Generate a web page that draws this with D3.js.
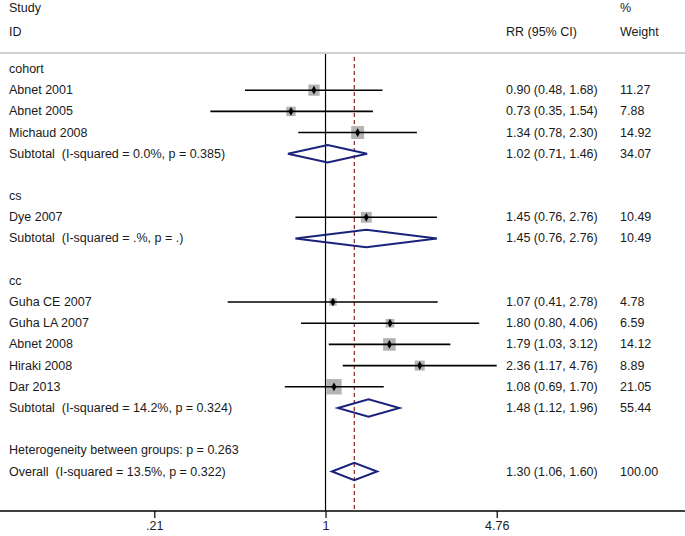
<!DOCTYPE html>
<html>
<head>
<meta charset="utf-8">
<script src="https://cdn.jsdelivr.net/npm/d3@7"></script>
<style>
  html, body { margin: 0; padding: 0; background: #fff; }
  svg { display: block; }
  text { font-family: "Liberation Sans", Arial, Helvetica, sans-serif; font-size: 12.5px; fill: #1a1a1a; white-space: pre; }
</style>
</head>
<body>
<svg id="chart" width="685" height="536"></svg>
<script>
// ---- data ----
const rowLabels = [
  "cohort", "Abnet 2001", "Abnet 2005", "Michaud 2008", "Subtotal  (I-squared = 0.0%, p = 0.385)", "",
  "cs", "Dye 2007", "Subtotal  (I-squared = .%, p = .)", "",
  "cc", "Guha CE 2007", "Guha LA 2007", "Abnet 2008", "Hiraki 2008", "Dar 2013", "Subtotal  (I-squared = 14.2%, p = 0.324)", "",
  "Heterogeneity between groups: p = 0.263", "Overall  (I-squared = 13.5%, p = 0.322)"
];
const rowTypes = [
  "group", "study", "study", "study", "pooled", "blank",
  "group", "study", "pooled", "blank",
  "group", "study", "study", "study", "study", "study", "pooled", "blank",
  "text", "pooled"
];
const rrValues = [null, 0.90, 0.73, 1.34, 1.02, null, null, 1.45, 1.45, null, null, 1.07, 1.80, 1.79, 2.36, 1.08, 1.48, null, null, 1.30];
const ciLower  = [null, 0.48, 0.35, 0.78, 0.71, null, null, 0.76, 0.76, null, null, 0.41, 0.80, 1.03, 1.17, 0.69, 1.12, null, null, 1.06];
const ciUpper  = [null, 1.68, 1.54, 2.30, 1.46, null, null, 2.76, 2.76, null, null, 2.78, 4.06, 3.12, 4.76, 1.70, 1.96, null, null, 1.60];
const weights  = [null, 11.27, 7.88, 14.92, 34.07, null, null, 10.49, 10.49, null, null, 4.78, 6.59, 14.12, 8.89, 21.05, 55.44, null, null, 100.00];
const tickValues = [0.21, 1, 4.76];
const tickLabels = [".21", "1", "4.76"];
const overallRR = 1.30;
const headerLeft = ["Study", "ID"];
const headerCI = "RR (95% CI)";
const headerWeight = ["%", "Weight"];

// ---- layout ----
const W = 685, H = 536;
const svg = d3.select("#chart");
const rows = rowLabels.map((label, i) => ({
  label, type: rowTypes[i], rr: rrValues[i], lo: ciLower[i], hi: ciUpper[i], w: weights[i], i
}));

const x = d3.scaleLog().domain([0.21, 4.76]).range([154.3, 496.7]);
const y = d3.scaleLinear().domain([0, rows.length - 1]).range([69, 471.5]);
const axisY = 511;
const sepY = 53;
const colCI = 506, colW = 620, colLabel = 9;
const sq = d3.scaleSqrt().domain([0, 100]).range([0, 33.5]);

// header
svg.append("text").attr("x", colLabel).attr("y", 7.5).attr("dominant-baseline", "central").text(headerLeft[0]);
svg.append("text").attr("x", colLabel).attr("y", 32).attr("dominant-baseline", "central").text(headerLeft[1]);
svg.append("text").attr("x", colCI).attr("y", 32).attr("dominant-baseline", "central").text(headerCI);
svg.append("text").attr("x", colW).attr("y", 7.5).attr("dominant-baseline", "central").text(headerWeight[0]);
svg.append("text").attr("x", colW).attr("y", 32).attr("dominant-baseline", "central").text(headerWeight[1]);

// separator
svg.append("line").attr("x1", 0).attr("x2", W).attr("y1", sepY).attr("y2", sepY)
  .attr("stroke", "#cfcfcf").attr("stroke-width", 2);

// reference line at 1
svg.append("line").attr("x1", x(1)).attr("x2", x(1)).attr("y1", sepY + 1).attr("y2", axisY)
  .attr("stroke", "#000").attr("stroke-width", 1.2);

// overall dashed line
svg.append("line").attr("x1", x(overallRR)).attr("x2", x(overallRR)).attr("y1", sepY + 4).attr("y2", axisY)
  .attr("stroke", "#8b2323").attr("stroke-width", 1.2).attr("stroke-dasharray", "4,3");

// row labels
svg.append("g").selectAll("text").data(rows.filter(d => d.label))
  .join("text")
  .attr("x", colLabel).attr("y", d => y(d.i)).attr("dominant-baseline", "central")
  .text(d => d.label);

const withData = rows.filter(d => d.rr != null);

// CI text & weight text
svg.append("g").selectAll("text").data(withData).join("text")
  .attr("x", colCI).attr("y", d => y(d.i)).attr("dominant-baseline", "central")
  .text(d => `${d.rr.toFixed(2)} (${d.lo.toFixed(2)}, ${d.hi.toFixed(2)})`);
svg.append("g").selectAll("text").data(withData).join("text")
  .attr("x", colW).attr("y", d => y(d.i)).attr("dominant-baseline", "central")
  .text(d => d.w.toFixed(2));

const studies = withData.filter(d => d.type === "study");
// weight squares
svg.append("g").selectAll("rect").data(studies).join("rect")
  .attr("x", d => x(d.rr) - sq(d.w) / 2).attr("y", d => y(d.i) - sq(d.w) / 2)
  .attr("width", d => sq(d.w)).attr("height", d => sq(d.w))
  .attr("fill", "#b3b3b3");
// CI lines
svg.append("g").selectAll("line").data(studies).join("line")
  .attr("x1", d => x(d.lo)).attr("x2", d => x(d.hi))
  .attr("y1", d => y(d.i)).attr("y2", d => y(d.i))
  .attr("stroke", "#000").attr("stroke-width", 1.6);
// point estimates
svg.append("g").selectAll("path").data(studies).join("path")
  .attr("transform", d => `translate(${x(d.rr)},${y(d.i)})`)
  .attr("d", d3.symbol(d3.symbolDiamond, 22)())
  .attr("fill", "#000");

// pooled diamonds
const pooled = withData.filter(d => d.type === "pooled");
const dh = 8.7;
svg.append("g").selectAll("path").data(pooled).join("path")
  .attr("d", d => {
    const cy = y(d.i);
    return `M${x(d.lo)},${cy}L${x(d.rr)},${cy - dh}L${x(d.hi)},${cy}L${x(d.rr)},${cy + dh}Z`;
  })
  .attr("fill", "none").attr("stroke", "#1a237a").attr("stroke-width", 2).attr("stroke-linejoin", "miter");

// x axis
svg.append("line").attr("x1", 0).attr("x2", W).attr("y1", axisY).attr("y2", axisY)
  .attr("stroke", "#000").attr("stroke-width", 1.4);
const axis = d3.axisBottom(x).tickValues(tickValues).tickSize(7).tickPadding(3)
  .tickFormat((d, i) => tickLabels[i]);
const gAxis = svg.append("g").attr("transform", `translate(0,${axisY})`).call(axis);
gAxis.select(".domain").remove();
gAxis.selectAll(".tick line").attr("stroke", "#000").attr("stroke-width", 1.2);
gAxis.selectAll(".tick text").attr("font-family", null).attr("font-size", null)
  .style("font-family", '"Liberation Sans", Arial, sans-serif').style("font-size", "12.5px").attr("fill", "#1a1a1a");
</script>
</body>
</html>
